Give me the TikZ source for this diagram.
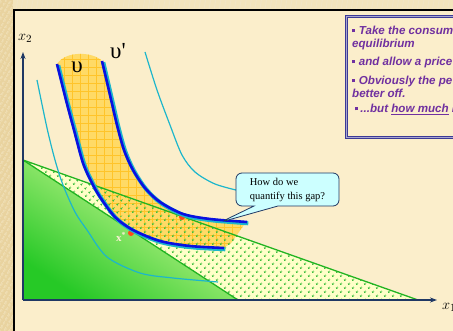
\documentclass[tikz,border=0pt]{standalone}
\usepackage{fontspec}
\setmainfont{Liberation Serif}
\newfontfamily\slidefont{Liberation Sans}
\usepackage{tikz}
\usetikzlibrary{shapes.callouts, arrows.meta, patterns, patterns.meta}
\definecolor{slidecream}{HTML}{FBEECB}
\definecolor{stripetan}{HTML}{E9D39F}
\definecolor{stripelight}{HTML}{F3E4BC}
\definecolor{axisnavy}{HTML}{1F3864}
\definecolor{budgetgreen}{HTML}{22B422}
\definecolor{dotgreen}{HTML}{3CBE3C}
\definecolor{gapyellow}{HTML}{FFFFC8}
\definecolor{bandyellow}{HTML}{FFDA66}
\definecolor{bandgrid}{HTML}{FFC42A}
\definecolor{curvecyan}{HTML}{1DB6CB}
\definecolor{curveblue}{HTML}{0A10E0}
\definecolor{dotred}{HTML}{FF4A1A}
\definecolor{calloutfill}{HTML}{CCFFFF}
\definecolor{boxpurple}{HTML}{7030A0}
\definecolor{boxnavy}{HTML}{3C3A96}
\newcommand{\sqbul}{\rule[2.7pt]{3.2pt}{3.2pt}\hspace{3.5pt}}

\begin{document}
\begin{tikzpicture}[x=1pt, y=-1pt,
    axis/.style={draw=axisnavy, line width=1.4pt, -{Stealth[length=7pt, width=5pt]}},
    budget/.style={draw=budgetgreen, line width=1.3pt},
    icurve/.style={draw=curvecyan, line width=1.2pt},
    halo/.style={draw=curvecyan, line width=4pt, shift={(1.3,1.3)}},
    ucurve/.style={draw=curveblue, line width=2.6pt},
    axislabel/.style={font=\fontsize{15}{17}\selectfont, inner sep=0},
    ulabel/.style={font=\fontsize{23}{25}\selectfont, inner sep=0},
    slidetext/.style={font=\slidefont\bfseries\itshape\fontsize{11.6}{13}\selectfont,
                      text=boxpurple, anchor=base west, inner sep=0}
]
\useasboundingbox (0,0) rectangle (453,331);
\clip (0,0) rectangle (453,331);

% slide frame
\fill[stripelight] (0,0) rectangle (453,10);
\fill[stripetan] (0,0) rectangle (13,331);
\fill[pattern={Lines[angle=60, distance=4pt, line width=1pt]}, pattern color=stripelight] (0,0) rectangle (13,331);
\fill[pattern={Lines[angle=80, distance=5pt, line width=1pt]}, pattern color=stripetan!60] (13,0) rectangle (453,10);
\fill[slidecream] (13,10) rectangle (453,331);
\draw[black, line width=2pt] (13.5,331) -- (13.5,10) -- (453,10);

\coordinate (origin) at (23,300);
\coordinate (ytip) at (23,52);
\coordinate (xtip) at (437,300);
\coordinate (b0) at (23,160);
\coordinate (bsteep) at (238,300);
\coordinate (bflat) at (418,300);

% budget sets
\fill[gapyellow] (b0) -- (bflat) -- (bsteep) -- cycle;
\shade[bottom color=green!75!black!85, top color=green!25!yellow!35!white, shading angle=-33]
    (b0) -- (bsteep) -- (origin) -- cycle;

% band between the two indifference curves
\path[fill=bandyellow]
    plot[smooth] coordinates {(57,64) (66,100) (74,130) (83,163) (92,183) (100,197) (115,217) (133,230) (160,241) (190,246) (224,248)}
    -- (232,242) -- (246,222)
    -- plot[smooth] coordinates {(247,222) (210,219) (183,214) (160,202) (145,188) (133,170) (124,150) (117,125) (110,95) (102,61)}
    .. controls (94,52) and (66,50) .. (57,64) -- cycle;
\fill[pattern={Hatch[distance=8pt, line width=0.6pt]}, pattern color=bandgrid]
    plot[smooth] coordinates {(57,64) (66,100) (74,130) (83,163) (92,183) (100,197) (115,217) (133,230) (160,241) (190,246) (224,248)}
    -- (232,242) -- (246,222)
    -- plot[smooth] coordinates {(247,222) (210,219) (183,214) (160,202) (145,188) (133,170) (124,150) (117,125) (110,95) (102,61)}
    .. controls (94,52) and (66,50) .. (57,64) -- cycle;
\fill[pattern={Dots[distance=5.4pt, radius=1.2pt, angle=45]}, pattern color=dotgreen]
    (b0) -- (bflat) -- (bsteep) -- cycle;

\draw[budget] (b0) -- (bsteep);
\draw[budget] (b0) -- (bflat);

% indifference map
\draw[icurve] plot[smooth] coordinates {(37,80) (47,128) (55,160) (63,185) (75,212) (87,230) (107,257) (140,273) (173,278) (218,282)};
\draw[icurve] plot[smooth] coordinates {(145,52) (157,90) (170,125) (182,155) (195,172) (215,184) (240,191)};

\fill[dotred] (131,233) circle (3);
\fill[dotred] (182,217) circle (3);

\draw[halo] plot[smooth] coordinates {(57,64) (66,100) (74,130) (83,163) (92,183) (100,197) (115,217) (133,230) (160,241) (190,246) (224,248)};
\draw[ucurve] plot[smooth] coordinates {(57,64) (66,100) (74,130) (83,163) (92,183) (100,197) (115,217) (133,230) (160,241) (190,246) (224,248)};
\draw[halo] plot[smooth] coordinates {(102,61) (110,95) (117,125) (124,150) (133,170) (145,188) (160,202) (183,214) (210,219) (247,222)};
\draw[ucurve] plot[smooth] coordinates {(102,61) (110,95) (117,125) (124,150) (133,170) (145,188) (160,202) (183,214) (210,219) (247,222)};

\node[text=slidecream!80!white, font=\bfseries\fontsize{11}{12}\selectfont, inner sep=0] (xstar) at (121,237) {x\textsuperscript{*}};

% axes
\draw[axis] (origin) -- (ytip);
\draw[axis] (origin) -- (xtip);
\node[axislabel] (x2) at (25,38) {$x_2$};
\node[axislabel] (x1) at (449,307) {$x_1$};

\node[ulabel] (u) at (77,67) {υ};
\node[ulabel] (uprime) at (118,51) {υ\textquotesingle};

% callout
\coordinate (gaptip) at (221,222);
\node[rectangle callout, callout absolute pointer={(gaptip)}, callout pointer width=24pt,
      rounded corners=6pt, fill=calloutfill, draw=axisnavy, line width=0.8pt,
      minimum width=103pt, minimum height=33pt, align=left, inner sep=2pt,
      font=\fontsize{10.5}{14}\selectfont] (gap) at (287.5,189.5)
      {How do we\\quantify this gap?};

% text box
\draw[draw=boxnavy, line width=1pt, double=boxnavy!45!white, double distance=1pt, fill=slidecream]
    (346.5,16.5) rectangle (470,138);
\node[slidetext] (take) at (352,35) {\sqbul Take the consum};
\node[slidetext] (equil) at (352,48) {equilibrium};
\node[slidetext] (allow) at (352,66) {\sqbul and allow a price};
\node[slidetext] (obvious) at (352,85) {\sqbul Obviously the pe};
\node[slidetext] (better) at (352,98) {better off.};
\node[slidetext] (howmuch) at (355,113) {\sqbul\hspace{-1.5pt}...but \underline{how much} b};
\end{tikzpicture}
\end{document}
